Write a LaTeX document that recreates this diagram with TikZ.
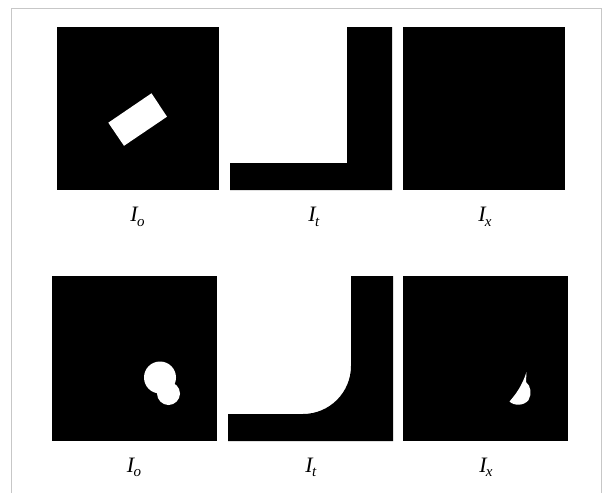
\documentclass[tikz,border=0pt]{standalone}
\usepackage{fontspec}
\setmainfont{Liberation Serif}
\usetikzlibrary{positioning}
\newcommand{\lbl}[1]{\textit{I}\kern-0.07em\raisebox{-0.22em}{\fontsize{15}{18}\selectfont\textit{#1}}}
\begin{document}
\begin{tikzpicture}[
  x=1pt, y=-1pt,
  frame/.style={draw=black!22, line width=0.9pt},
  panel/.style={fill=black},
  blob/.style={fill=white},
  caption/.style={anchor=base, inner sep=0pt, font=\fontsize{22}{26}\selectfont}
]
\useasboundingbox (0,0) rectangle (611,493);
\draw[frame] (11,493) -- (11,8) -- (601,8) -- (601,493);
% top row
\fill[panel] (57,27) rectangle (219,190);
\fill[blob] (108.3,122.7) -- (151.5,93.3) -- (167,116.7) -- (124,145.8) -- cycle;
\fill[panel] (230,163) -- (347,163) -- (347,27) -- (392,27) -- (392,190) -- (230,190) -- cycle;
\fill[panel] (403,27) rectangle (565,190);
\node[caption] (io1) at (137.5,221.5) {\lbl{o}};
\node[caption] (it1) at (314,221.5) {\lbl{t}};
\node[caption] (ix1) at (485,221.5) {\lbl{x}};
% bottom row
\fill[panel] (52,276) rectangle (217,441);
\fill[blob] (160,377.5) circle[radius=16];
\fill[blob] (168.5,393.5) circle[radius=11.5];
\fill[panel] (228,414) -- (303,414) .. controls (329.5,414) and (351,392.5) .. (351,366)
  -- (351,276) -- (393,276) -- (393,441) -- (228,441) -- cycle;
\fill[panel] (403,276) rectangle (568,441);
\fill[blob] (526.5,372) .. controls (522,386) and (516,394) .. (509.5,401.5)
  .. controls (514,406) and (524,406) .. (528.5,400)
  .. controls (532,394) and (531,386) .. (526,382) -- cycle;
\node[caption] (io2) at (134,472) {\lbl{o}};
\node[caption] (it2) at (311,472) {\lbl{t}};
\node[caption] (ix2) at (486,472) {\lbl{x}};
\end{tikzpicture}
\end{document}
